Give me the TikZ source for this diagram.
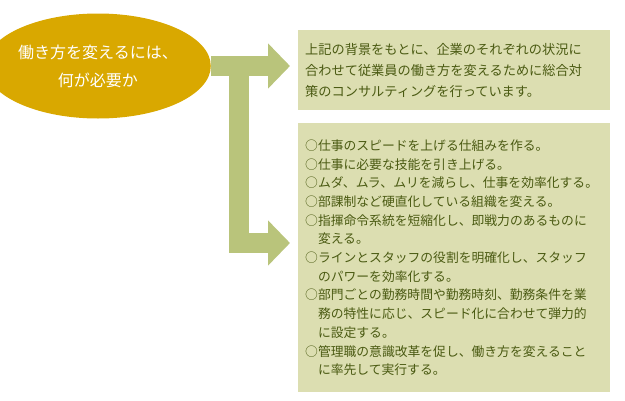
\documentclass[tikz,border=0pt]{standalone}
\usepackage{fontspec}
\setmainfont{Noto Sans CJK JP}
\usetikzlibrary{arrows.meta,shapes.geometric}
\definecolor{goldfill}{HTML}{D9A800}
\definecolor{boxfill}{HTML}{DCDEB1}
\definecolor{armcolor}{HTML}{B9C47B}
\definecolor{boxtext}{HTML}{4A5A12}
\tikzset{
  infobox/.style={fill=boxfill, anchor=north west, text width=298pt, inner xsep=7pt,
    align=left, text=boxtext},
  arm/.style={armcolor, line width=20pt,
    -{Triangle[width=44pt,length=22pt,fill=armcolor]}}
}
\begin{document}
\begin{tikzpicture}[x=1pt,y=-1pt]
\useasboundingbox (0,0) rectangle (625,400);
% topic
\node[ellipse, fill=goldfill, minimum width=184pt, minimum height=105pt, inner sep=0pt,
  text=white, align=center, font=\fontsize{16}{28}\selectfont] (topic) at (98,66)
  {働き方を変えるには、\\何が必要か};
% boxes
\node[infobox, minimum height=80pt, font=\fontsize{13.2}{21}\selectfont] (bkg) at (298,30)
  {上記の背景をもとに、企業のそれぞれの状況に\\
   合わせて従業員の働き方を変えるために総合対\\
   策のコンサルティングを行っています。};
\node[infobox, minimum height=269pt, font=\fontsize{12.8}{18.7}\selectfont] (list) at (298,123)
  {○仕事のスピードを上げる仕組みを作る。\\
   ○仕事に必要な技能を引き上げる。\\
   ○ムダ、ムラ、ムリを減らし、仕事を効率化する。\\
   ○部課制など硬直化している組織を変える。\\
   ○指揮命令系統を短縮化し、即戦力のあるものに\\
   \hspace*{1em}変える。\\
   ○ラインとスタッフの役割を明確化し、スタッフ\\
   \hspace*{1em}のパワーを効率化する。\\
   ○部門ごとの勤務時間や勤務時刻、勤務条件を業\\
   \hspace*{1em}務の特性に応じ、スピード化に合わせて弾力的\\
   \hspace*{1em}に設定する。\\
   ○管理職の意識改革を促し、働き方を変えること\\
   \hspace*{1em}に率先して実行する。};
% arms
\coordinate (tip1) at (290,66);
\coordinate (fork) at (239,66);
\coordinate (tip2) at (290,243);
\draw[arm] (topic.east) -- (tip1);
\draw[arm] ([yshift=-10pt]fork) |- (tip2);
\end{tikzpicture}
\end{document}
